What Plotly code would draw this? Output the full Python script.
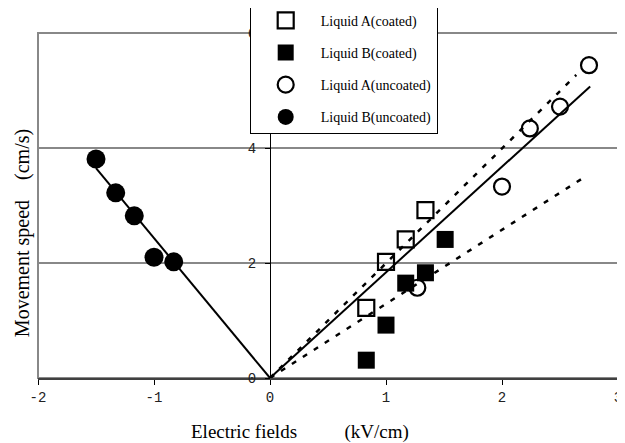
import plotly.graph_objects as go

# ---- data ----
a_coated_x = [0.83, 1.0, 1.17, 1.34]
a_coated_y = [1.22, 2.02, 2.41, 2.92]

b_coated_x = [0.83, 1.0, 1.17, 1.34, 1.51]
b_coated_y = [0.31, 0.92, 1.65, 1.83, 2.41]

a_uncoated_x = [1.27, 2.0, 2.24, 2.5, 2.75]
a_uncoated_y = [1.57, 3.33, 4.34, 4.72, 5.44]

b_uncoated_x = [-1.5, -1.33, -1.17, -1.0, -0.83]
b_uncoated_y = [3.81, 3.22, 2.82, 2.10, 2.02]

# trend lines (through origin)
fit_b_unc_x = [0, -1.5]
fit_b_unc_y = [0, 3.65]
fit_a_unc_x = [0, 2.76]
fit_a_unc_y = [0, 5.07]
fit_a_coat_x = [0, 2.64]
fit_a_coat_y = [0, 5.27]
fit_b_coat_x = [0, 2.70]
fit_b_coat_y = [0, 3.48]

x_ticks = [-2, -1, 0, 1, 2, 3]
y_ticks = [0, 2, 4, 6]

fig = go.Figure()

# lines
fig.add_trace(go.Scatter(x=fit_b_unc_x, y=fit_b_unc_y, mode="lines",
                         line=dict(color="black", width=2), showlegend=False, hoverinfo="skip"))
fig.add_trace(go.Scatter(x=fit_a_unc_x, y=fit_a_unc_y, mode="lines",
                         line=dict(color="black", width=2), showlegend=False, hoverinfo="skip"))
fig.add_trace(go.Scatter(x=fit_a_coat_x, y=fit_a_coat_y, mode="lines",
                         line=dict(color="black", width=2.5, dash="5px,8px"), showlegend=False, hoverinfo="skip"))
fig.add_trace(go.Scatter(x=fit_b_coat_x, y=fit_b_coat_y, mode="lines",
                         line=dict(color="black", width=2.5, dash="5px,8px"), showlegend=False, hoverinfo="skip"))

# markers
fig.add_trace(go.Scatter(x=b_coated_x, y=b_coated_y, mode="markers", name="Liquid B(coated)",
                         legendgroup="2", legendrank=2,
                         marker=dict(symbol="square", size=17, color="black", line=dict(width=0))))
fig.add_trace(go.Scatter(x=a_coated_x, y=a_coated_y, mode="markers", name="Liquid A(coated)",
                         legendgroup="1", legendrank=1,
                         marker=dict(symbol="square-open", size=16, color="black", line=dict(width=2.2))))
fig.add_trace(go.Scatter(x=a_uncoated_x, y=a_uncoated_y, mode="markers", name="Liquid A(uncoated)",
                         legendgroup="3", legendrank=3,
                         marker=dict(symbol="circle-open", size=16, color="black", line=dict(width=2.2))))
fig.add_trace(go.Scatter(x=b_uncoated_x, y=b_uncoated_y, mode="markers", name="Liquid B(uncoated)",
                         legendgroup="4", legendrank=4,
                         marker=dict(symbol="circle", size=19, color="black", line=dict(width=0))))

tickfont = dict(family="Liberation Mono", size=14, color="#222222")

fig.update_layout(
    width=625, height=443,
    margin=dict(l=30, r=15, t=25, b=73, autoexpand=False),
    paper_bgcolor="white", plot_bgcolor="white",
    showlegend=True,
    legend=dict(x=0.365, y=1.085, xanchor="left", yanchor="top",
                bgcolor="white", bordercolor="black", borderwidth=1,
                font=dict(family="Liberation Serif", size=14, color="black"),
                traceorder="grouped", tracegroupgap=11,
                itemwidth=60),
    xaxis=dict(range=[-2, 3], tickmode="array", tickvals=x_ticks,
               ticktext=[str(v) for v in x_ticks],
               showgrid=False, zeroline=False,
               showline=True, linecolor="#404040", linewidth=2,
               ticks="outside", ticklen=5, tickcolor="black", tickwidth=1,
               ticklabeloverflow="allow",
               tickfont=tickfont, fixedrange=True),
    xaxis2=dict(range=[-2, 3], overlaying="x", anchor="y", side="bottom",
                tickmode="array", tickvals=x_ticks, showticklabels=False,
                showgrid=False, zeroline=False, showline=False,
                ticks="inside", ticklen=5, tickcolor="black", tickwidth=1),
    yaxis=dict(range=[0, 6], tickmode="array", tickvals=y_ticks,
               ticktext=[str(v) for v in y_ticks],
               anchor="free", position=0.4,
               showgrid=True, gridcolor="#888888", gridwidth=1.5,
               zeroline=False, showline=True, linecolor="black", linewidth=1,
               ticks="outside", ticklen=5, tickcolor="black", tickwidth=1,
               ticklabelstandoff=6, ticklabeloverflow="allow",
               tickfont=tickfont, fixedrange=True),
    yaxis2=dict(range=[0, 6], overlaying="y", anchor="free", position=0.4,
                tickmode="array", tickvals=y_ticks, showticklabels=False,
                showgrid=False, zeroline=False, showline=False, side="right",
                ticks="outside", ticklen=5, tickcolor="black", tickwidth=1),
    shapes=[dict(type="rect", xref="paper", yref="paper", x0=0, x1=1, y0=0, y1=1,
                 line=dict(color="#888888", width=2), layer="below")],
    annotations=[
        dict(text="Electric fields" + "\u00a0" * 10 + "(kV/cm)", xref="x", yref="paper",
             x=0.26, y=-0.157, showarrow=False, xanchor="center", yanchor="middle",
             font=dict(family="Liberation Serif", size=19, color="black")),
        dict(text="Movement speed" + "\u00a0" * 4 + "(cm/s)", xref="paper", yref="paper",
             x=-0.0275, y=0.42, showarrow=False, textangle=-90,
             xanchor="center", yanchor="middle",
             font=dict(family="Liberation Serif", size=20, color="black")),
    ],
)

fig.write_html("out.html")
